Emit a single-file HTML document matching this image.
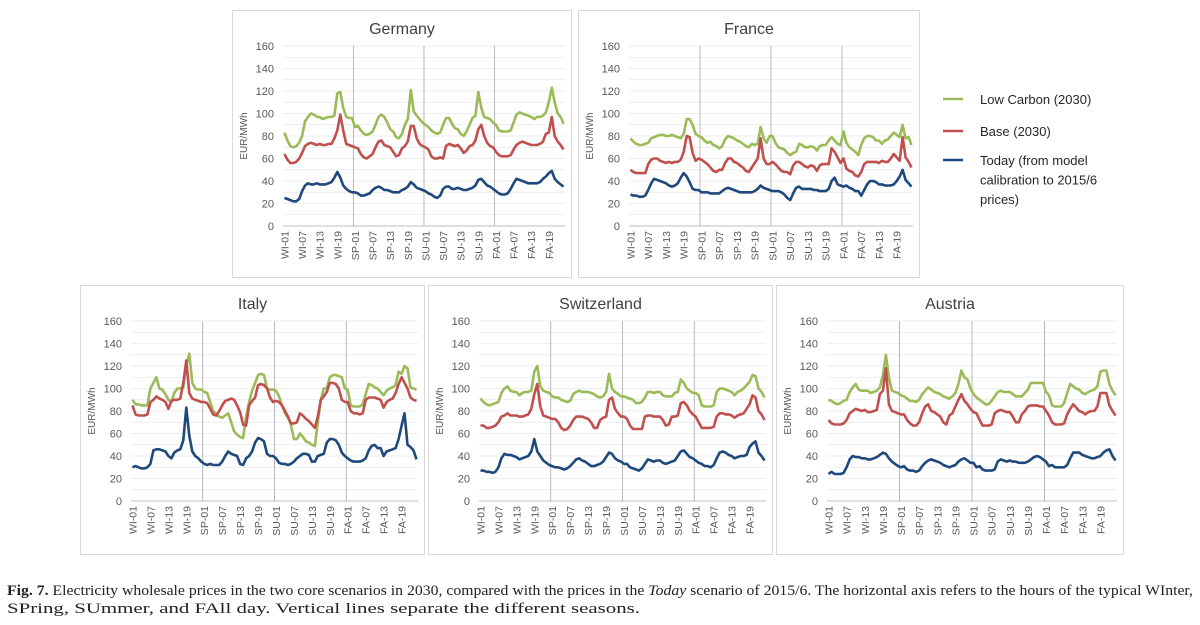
<!DOCTYPE html>
<html><head><meta charset="utf-8"><style>
body{margin:0;background:#fff;}
svg{display:block;font-family:"Liberation Sans",sans-serif;}
</style></head><body>
<svg id="root" width="1200" height="625" viewBox="0 0 1200 625">
<g font-size="13" fill="#262626">
<line x1="943" y1="99" x2="963" y2="99" stroke="#9bbb59" stroke-width="2.5"/>
<text x="980" y="104">Low Carbon (2030)</text>
<line x1="943" y1="131" x2="963" y2="131" stroke="#c0504d" stroke-width="2.5"/>
<text x="980" y="136">Base (2030)</text>
<line x1="943" y1="160" x2="963" y2="160" stroke="#1f497d" stroke-width="2.5"/>
<text x="980" y="165"><tspan x="980">Today (from model</tspan><tspan x="980" dy="19.5">calibration to 2015/6</tspan><tspan x="980" dy="19.5">prices)</tspan></text>
</g>
<g font-family="'Liberation Serif',serif" font-size="15" fill="#222">
<text x="7" y="595" textLength="1186" lengthAdjust="spacingAndGlyphs"><tspan font-weight="bold">Fig. 7.</tspan> Electricity wholesale prices in the two core scenarios in 2030, compared with the prices in the <tspan font-style="italic">Today</tspan> scenario of 2015/6. The horizontal axis refers to the hours of the typical WInter,</text>
<text x="7" y="613" textLength="633" lengthAdjust="spacingAndGlyphs">SPring, SUmmer, and FAll day. Vertical lines separate the different seasons.</text>
</g>
</svg>
<script>
const yTicks=[0,20,40,60,80,100,120,140,160];
const seasons=["WI","SP","SU","FA"];
const deGreen=[83,76,71,70,71,74,80,93,97,100,99,97,97,95,96,97,97,98,118,119,105,97,96,96, 88,89,85,82,81,82,84,90,97,99,97,92,86,84,79,78,82,90,95,121,102,98,95,92, 90,88,85,83,82,83,90,96,96,91,87,86,82,80,84,90,96,98,119,105,97,96,95,92, 90,85,84,84,84,85,92,99,101,100,99,98,97,95,97,97,98,101,110,123,110,100,97,91];
const deRed=[64,59,56,56,57,60,65,71,73,74,73,72,73,72,72,73,73,78,85,99,85,73,72,71, 70,69,64,61,60,62,64,70,75,76,72,71,70,66,62,63,69,71,75,89,89,78,73,71, 70,68,62,60,60,61,60,71,73,72,71,72,69,65,67,71,72,76,86,90,80,74,71,70, 66,63,62,62,62,63,68,72,74,75,74,73,72,72,72,73,75,82,83,97,80,75,72,68];
const deBlue=[25,24,23,22,22,24,31,36,38,37,37,38,37,37,37,38,39,43,48,43,36,33,31,30, 30,29,27,27,28,29,32,34,35,34,32,32,31,30,30,30,32,33,35,39,37,34,33,32, 31,29,28,26,25,27,33,35,35,33,33,34,33,32,32,33,34,36,41,42,39,36,35,33, 31,29,28,28,29,33,38,42,41,40,39,38,38,38,38,39,42,44,47,49,42,39,37,35];
const frGreen=[78,75,73,72,72,73,74,78,79,80,81,81,80,80,81,80,79,78,82,95,95,90,82,80, 79,76,74,75,72,71,69,71,77,80,79,78,76,75,73,71,70,73,72,73,88,78,74,80, 80,74,70,69,68,65,63,65,66,73,72,70,70,71,70,67,71,72,72,76,79,76,73,72, 84,74,70,68,66,63,72,78,80,80,79,76,76,73,76,77,80,83,81,79,90,78,79,72];
const frRed=[50,48,47,47,47,47,55,59,60,60,58,57,56,57,56,57,57,59,66,80,79,65,58,60, 59,57,55,52,49,48,50,50,56,60,60,57,56,54,52,49,48,52,56,60,78,60,55,55, 57,55,52,49,48,48,46,54,57,57,55,53,52,54,53,49,54,55,55,55,69,66,61,56, 60,51,49,48,45,44,48,55,57,57,57,57,56,58,57,57,60,64,61,58,79,61,57,52];
const frBlue=[28,27,27,26,26,27,32,38,42,41,40,39,38,36,35,36,38,43,47,44,39,33,32,32, 30,30,30,29,29,29,29,31,33,34,33,32,31,30,30,30,30,30,31,33,36,34,33,32, 31,31,31,30,28,25,23,29,34,35,33,33,33,33,32,32,31,31,31,33,40,43,37,36, 35,36,34,33,31,31,27,32,37,40,40,39,37,37,36,36,36,37,40,44,50,41,38,35];
const itGreen=[90,86,86,85,85,85,100,105,110,100,99,95,90,88,96,100,100,101,120,131,105,100,99,99, 97,96,88,80,77,75,74,76,78,70,62,59,57,56,75,88,98,105,112,113,112,100,99,99, 98,93,85,78,74,68,55,55,60,57,53,52,50,49,70,90,100,100,110,112,112,111,110,100, 99,85,84,84,84,86,95,104,103,101,100,97,94,98,100,101,103,115,113,120,118,101,100,99];
const itRed=[85,77,76,76,76,77,88,90,93,91,90,88,82,89,90,90,91,105,125,96,91,90,89,88, 88,87,82,77,76,80,85,89,90,91,90,85,79,68,67,85,89,92,103,104,103,100,92,88, 89,88,85,80,75,69,69,70,78,76,73,71,68,65,75,90,93,97,105,105,104,100,90,88, 88,80,78,78,77,78,90,92,92,92,91,90,83,88,90,91,96,104,110,105,100,92,90,89];
const itBlue=[30,31,30,29,29,30,33,45,46,46,45,44,40,38,43,45,46,54,83,58,44,40,38,35, 33,32,33,32,32,32,35,40,44,42,41,40,33,32,38,40,44,52,56,55,53,42,40,40, 38,34,33,33,32,33,35,38,40,42,42,41,35,35,40,41,42,52,55,55,54,50,43,40, 38,36,35,35,35,36,38,45,49,50,47,47,40,44,45,46,47,55,67,78,50,48,45,37];
const chGreen=[91,88,86,85,86,87,88,96,100,102,98,97,97,94,96,97,97,98,115,120,102,98,97,96, 93,92,92,90,89,88,89,95,97,98,97,97,97,96,95,93,92,93,97,113,100,97,95,93, 93,92,91,90,87,87,88,92,97,97,96,97,97,94,93,93,93,96,97,108,105,100,98,96, 96,94,85,84,84,84,85,97,100,100,99,98,97,94,97,98,100,103,106,112,111,100,97,92];
const chRed=[67,67,65,65,66,67,70,75,76,78,76,76,76,75,75,76,77,82,95,104,84,76,75,74, 73,73,70,65,63,64,67,72,75,75,75,74,73,70,65,65,72,74,75,90,92,82,78,75, 75,73,67,64,64,64,64,75,76,76,75,75,75,72,67,68,75,75,76,87,88,85,80,77, 75,70,65,65,65,65,66,75,78,78,77,77,76,74,76,77,78,82,86,94,92,80,77,72];
const chBlue=[27,27,26,26,25,26,30,38,42,41,41,40,39,37,38,39,40,44,55,44,40,36,34,32, 31,30,30,29,28,29,31,34,37,38,36,35,33,31,31,32,33,35,39,43,42,38,36,35, 33,33,30,29,28,27,29,33,37,36,35,36,36,34,33,34,35,36,40,44,45,42,39,38, 36,34,33,31,31,30,32,38,43,44,43,41,40,38,39,40,40,41,48,51,53,43,40,36];
const atGreen=[90,89,87,86,87,89,90,97,101,104,99,98,98,98,96,97,98,101,112,130,110,98,97,96, 94,93,91,89,89,88,90,95,98,101,99,97,96,95,93,92,91,93,96,104,116,110,108,100, 95,92,90,88,86,86,89,93,97,98,97,97,97,95,93,93,93,96,99,105,105,105,105,105, 97,94,85,84,84,84,87,96,104,102,100,99,96,95,97,98,99,102,115,116,116,104,98,94];
const atRed=[72,69,68,68,68,69,72,78,80,82,81,80,81,79,79,80,81,95,98,118,86,80,79,78, 77,77,72,69,67,67,70,78,84,86,80,79,77,75,70,68,76,78,84,90,95,89,86,82, 79,78,72,67,67,67,68,78,80,81,80,79,79,75,70,70,77,80,84,85,85,85,84,84, 80,76,70,68,68,68,69,77,82,86,83,80,79,77,79,80,80,84,96,96,96,85,80,76];
const atBlue=[24,26,24,24,24,25,30,37,40,39,39,38,38,37,37,38,39,41,43,42,38,35,33,31, 30,31,28,27,27,26,27,31,34,36,37,36,35,34,32,31,30,31,32,35,37,38,36,34, 34,30,31,28,27,27,27,28,35,37,36,35,36,35,35,34,34,34,35,37,39,40,39,37, 35,31,32,30,30,30,30,32,38,43,43,43,41,40,39,38,38,39,40,43,45,46,40,36];

const NS="http://www.w3.org/2000/svg";
const root=document.getElementById('root');
function mk(tag,attrs,parent){const e=document.createElementNS(NS,tag);for(const k in attrs)e.setAttribute(k,attrs[k]);parent.appendChild(e);return e;}
function slug(s){return s.toLowerCase().replace(/[^a-z]+/g,'-');}

function panel(px,py,w,h,title,green,red,blue){
  const g=mk('g',{transform:`translate(${px},${py})`},root);
  
  
  const box=mk('rect',{x:0.5,y:0.5,width:w-1,height:h-1,fill:'#fff',stroke:'#d9d9d9'},g);
  
  
  const t=mk('text',{x:w/2,y:24,'text-anchor':'middle','font-size':16,fill:'#404040'},g);
  t.textContent=title;
  
  
  const x0=51, nCat=96, catW=(w-58)/nCat, yTop=36, yBot=216;
  const sx=i=>x0+(i+0.5)*catW;
  const sy=v=>yBot-(v/160)*(yBot-yTop);
  for(let v=10;v<=160;v+=10){
    const l=mk('line',{x1:x0,x2:x0+nCat*catW,y1:sy(v),y2:sy(v),stroke:'#e8e8e8','stroke-width':0.8},g);
    
    
  }
  const ax=mk('line',{x1:x0,x2:x0+nCat*catW,y1:yBot,y2:yBot,stroke:'#bfbfbf'},g);
  
  
  for(let k=1;k<4;k++){
    const xx=x0+k*24*catW;
    const l=mk('line',{x1:xx,x2:xx,y1:yTop,y2:yBot,stroke:'#a6a6a6','stroke-width':0.8},g);
    
    
  }
  yTicks.forEach(v=>{
    const tt=mk('text',{x:42,y:sy(v)+4,'text-anchor':'end','font-size':11,fill:'#595959'},g);
    tt.textContent=v;
    
    
  });
  const yt=mk('text',{transform:`translate(15,126) rotate(-90)`,'text-anchor':'middle','font-size':10,fill:'#595959'},g);
  yt.textContent='EUR/MWh';
  
  
  for(let i=0;i<nCat;i+=6){
    const lab=seasons[Math.floor(i/24)]+'-'+String(i%24+1).padStart(2,'0');
    const xt=mk('text',{transform:`translate(${sx(i)+4},221) rotate(-90)`,'text-anchor':'end','font-size':10.5,fill:'#595959'},g);
    xt.textContent=lab;
    
    
  }
  [[green,'#9bbb59','low-carbon-line'],[red,'#c0504d','base-line'],[blue,'#1f497d','today-line']].forEach(([arr,c,n])=>{
    const d=arr.map((v,i)=>(i?'L':'M')+sx(i).toFixed(1)+','+sy(v).toFixed(1)).join('');
    const p=mk('path',{d:d,fill:'none',stroke:c,'stroke-width':2.6,'stroke-linejoin':'round'},g);
    
    
  });
}
panel(232,10,340,268,'Germany',deGreen,deRed,deBlue);
panel(578,10,342,268,'France',frGreen,frRed,frBlue);
panel(80,285,345,270,'Italy',itGreen,itRed,itBlue);
panel(428,285,345,270,'Switzerland',chGreen,chRed,chBlue);
panel(776,285,348,270,'Austria',atGreen,atRed,atBlue);
</script>
</body></html>
